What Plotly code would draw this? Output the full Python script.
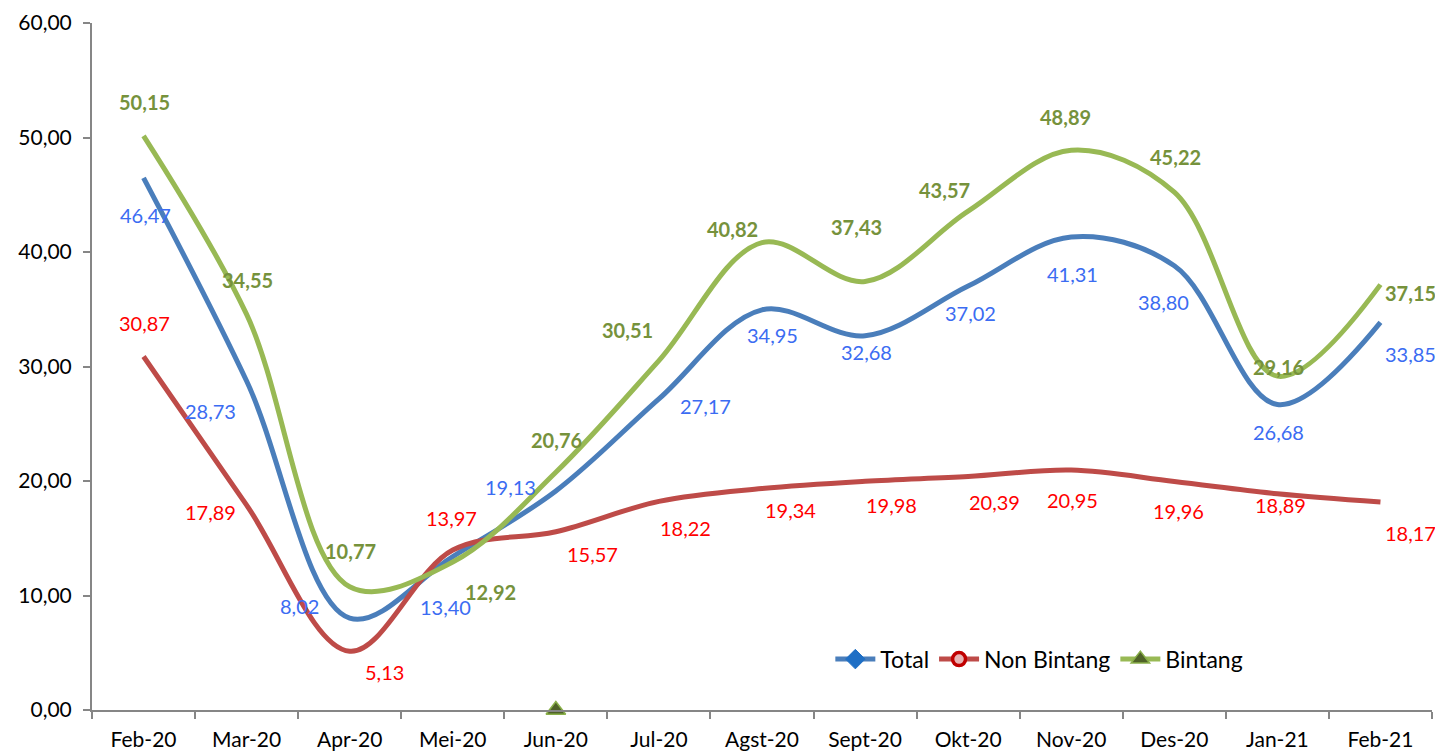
import plotly.graph_objects as go

categories = ["Feb-20", "Mar-20", "Apr-20", "Mei-20", "Jun-20", "Jul-20", "Agst-20",
              "Sept-20", "Okt-20", "Nov-20", "Des-20", "Jan-21", "Feb-21"]
total = [46.47, 28.73, 8.02, 13.40, 19.13, 27.17, 34.95, 32.68, 37.02, 41.31, 38.80, 26.68, 33.85]
non_bintang = [30.87, 17.89, 5.13, 13.97, 15.57, 18.22, 19.34, 19.98, 20.39, 20.95, 19.96, 18.89, 18.17]
bintang = [50.15, 34.55, 10.77, 12.92, 20.76, 30.51, 40.82, 37.43, 43.57, 48.89, 45.22, 29.16, 37.15]
stray_category = ["Jun-20"]
stray_value = [0]
y_ticks = [0, 10, 20, 30, 40, 50, 60]

# label offsets (pixels) relative to the data point
total_off = [(2, -37), (-36, -30), (-50, 12), (-7, -50), (-45, 4), (47, -7), (10, -25),
             (1, -16), (2, -27), (1, -37), (-11, -36), (1, -27), (30, -32)]
nb_off = [(1, 34), (-36, -7), (35, -21), (-1, 32), (37, -22), (27, -27), (28, -21),
          (26, -24), (26, -25), (1, -30), (4, -30), (3, -11), (30, -31)]
b_off = [(1, 34), (1, 34), (1, 36), (38, -30), (1, 32), (-31, 31), (-30, 14),
         (-9, 54), (-24, 21), (-6, 33), (1, 35), (1, 9), (30, -8)]

TOTAL_C = "#4A7EBB"
NB_C = "#BE4B48"
B_C = "#98B954"
TOTAL_LBL = "#3B6CF2"
NB_LBL = "#FF0000"
B_LBL = "#76923C"
FONT = "Lato"

fig = go.Figure()
for name, vals, col in [("Total", total, TOTAL_C), ("Non Bintang", non_bintang, NB_C), ("Bintang", bintang, B_C)]:
    fig.add_trace(go.Scatter(x=categories, y=vals, mode="lines", name=name,
                             line=dict(color=col, width=5, shape="spline", smoothing=1.0),
                             showlegend=False, hoverinfo="skip"))

# legend entries
fig.add_trace(go.Scatter(x=[None], y=[None], mode="lines+markers", name="Total",
                         line=dict(color=TOTAL_C, width=5),
                         marker=dict(symbol="diamond", size=15, color="#1F6FC5", line=dict(color="#1F6FC5", width=1))))
fig.add_trace(go.Scatter(x=[None], y=[None], mode="lines+markers", name="Non Bintang",
                         line=dict(color=NB_C, width=5),
                         marker=dict(symbol="circle", size=13, color="#E8B4B4", line=dict(color="#C00000", width=3.5))))
fig.add_trace(go.Scatter(x=[None], y=[None], mode="lines+markers", name="Bintang",
                         line=dict(color=B_C, width=5),
                         marker=dict(symbol="triangle-up", size=16, color="#4F6228", line=dict(color="#8AB04A", width=1.5))))

# stray marker
fig.add_trace(go.Scatter(x=stray_category, y=stray_value, mode="markers", showlegend=False, cliponaxis=False,
                         marker=dict(symbol="triangle-up", size=17, color="#4F6228", line=dict(color="#8AB04A", width=1.5)),
                         hoverinfo="skip"))

def add_labels(vals, offs, color, bold=False):
    for i, (v, (dx, dy)) in enumerate(zip(vals, offs)):
        txt = f"{v:.2f}".replace(".", ",")
        if bold:
            txt = f"<b>{txt}</b>"
        fig.add_annotation(x=categories[i], y=v, text=txt, showarrow=False,
                           xshift=dx, yshift=dy, font=dict(color=color, size=20, family=FONT))

add_labels(total, total_off, TOTAL_LBL)
add_labels(non_bintang, nb_off, NB_LBL)
add_labels(bintang, b_off, B_LBL, bold=True)

# page body has an 8px margin, so the figure is sized to fit the 1443x752 window
fig.update_layout(
    width=1435, height=744,
    margin=dict(l=84, r=11, t=15, b=42),
    paper_bgcolor="white", plot_bgcolor="white",
    separators=",.",
    font=dict(family=FONT, size=20, color="black"),
    legend=dict(orientation="h", x=0.551, y=0.074, xanchor="left", yanchor="middle",
                font=dict(size=23, family=FONT), bgcolor="rgba(0,0,0,0)", itemwidth=40),
    showlegend=True,
)
fig.update_xaxes(type="category", range=[-0.5, 12.5], showgrid=False, showline=True, automargin=False,
                 linecolor="#868686", linewidth=2, ticks="outside", tickson="boundaries",
                 ticklen=7, tickcolor="#868686", tickwidth=2, ticklabelstandoff=10,
                 tickfont=dict(size=21, family=FONT))
fig.update_yaxes(range=[0, 60], tickvals=y_ticks, tickformat=".2f", showgrid=False, zeroline=False,
                 showline=True, linecolor="#868686", linewidth=2, ticks="outside", ticklen=7, automargin=False,
                 tickcolor="#868686", tickwidth=2, ticklabelstandoff=7, tickfont=dict(size=21, family=FONT))

fig.write_html("out.html")
